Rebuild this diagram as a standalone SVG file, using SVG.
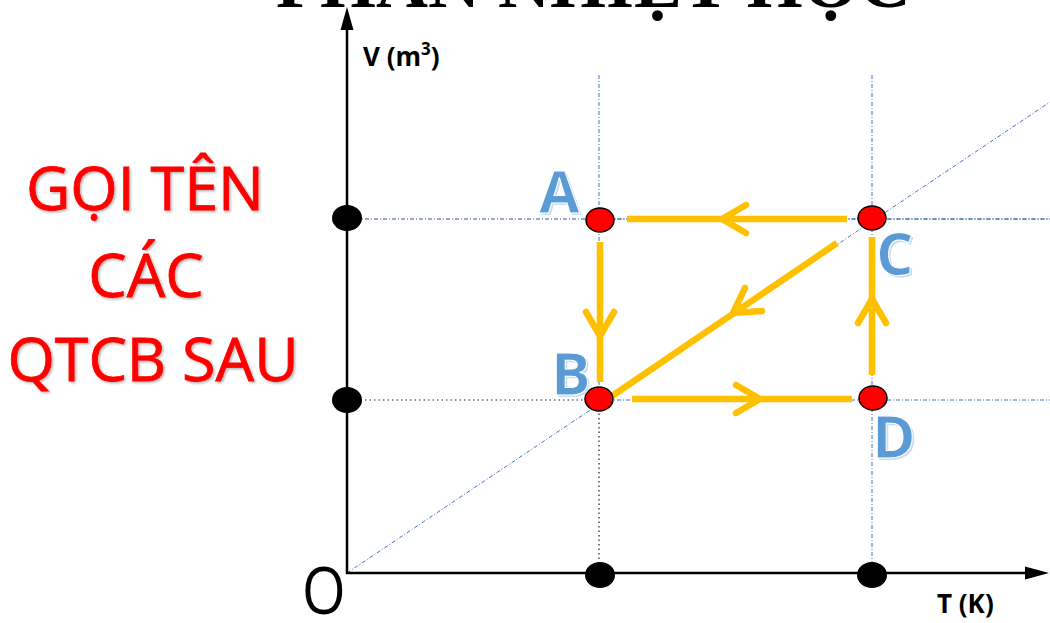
<svg xmlns="http://www.w3.org/2000/svg" width="1050" height="623" viewBox="0 0 1050 623">
<defs>
<style>
.title{font-family:"Liberation Serif",serif;font-weight:bold;font-size:72px;fill:#000}
.red{font-family:"Open Sans","Liberation Sans",sans-serif;font-size:61px;fill:#FF0000;stroke:#FF0000;stroke-width:0.8;text-anchor:middle}
.axl{font-family:"Open Sans","Liberation Sans",sans-serif;font-weight:bold;font-size:26px;fill:#000}
.lbl{font-family:"Open Sans","Liberation Sans",sans-serif;font-weight:bold;font-size:59px;fill:#5B9BD5;stroke:#FFFFFF;stroke-width:1}
.lblsh{font-family:"Open Sans","Liberation Sans",sans-serif;font-weight:bold;font-size:59px;fill:#C9DDF1}
.guide{stroke:#4472C4;stroke-width:1;stroke-dasharray:4 2 1 2;fill:none}
.guidek{stroke:#222;stroke-width:1.2;stroke-dasharray:1.5 3;fill:none}
.axis{stroke:#000;stroke-width:2.5;fill:none}
.ptk{fill:#000}
.ptr{fill:#FF0000;stroke:#000;stroke-width:1.5}
.seg{stroke:#FFC000;stroke-width:6.5;fill:none;stroke-linecap:butt}
.chev{stroke:#FFC000;stroke-width:6.5;fill:none;stroke-linecap:round;stroke-linejoin:round}
</style>
<filter id="sh" x="-10%" y="-10%" width="130%" height="130%">
<feDropShadow dx="1.5" dy="1.5" stdDeviation="1" flood-color="#000" flood-opacity="0.3"/>
</filter>
</defs>
<rect width="1050" height="623" fill="#fff"/>
<g id="title"><text class="title" x="276" y="7">PHẦN NHIỆT HỌC</text></g>
<g id="guides">
<line class="guide" x1="347" y1="573" x2="1050" y2="102"/>
<line class="guide" x1="599" y1="75" x2="599" y2="400"/>
<line class="guidek" x1="599" y1="400" x2="599" y2="573"/>
<line class="guide" x1="872" y1="75" x2="872" y2="573"/>
<line class="guide" x1="347" y1="219" x2="1050" y2="219" style="stroke:#2F5597"/>
<line class="guide" x1="600" y1="219" x2="1050" y2="219"/>
<line class="guidek" x1="347" y1="400" x2="599" y2="400"/>
<line class="guide" x1="599" y1="400" x2="1050" y2="400"/>
</g>
<g id="axes">
<line class="axis" x1="347" y1="574" x2="347" y2="28"/>
<polygon points="347,7 340.5,30 353.5,30" fill="#000"/>
<line class="axis" x1="346" y1="573" x2="1027" y2="573"/>
<polygon points="1049,573 1025,566.5 1025,579.5" fill="#000"/>
<text class="axl" x="363" y="66">V (m<tspan font-size="17" dy="-11">3</tspan><tspan dy="11">)</tspan></text>
<text class="axl" x="937" y="613">T (K)</text>
<text transform="translate(302,614) scale(0.85,1)" font-family="Open Sans, Liberation Sans, sans-serif" font-size="66" fill="#000">O</text>
</g>
<g id="question" filter="url(#sh)">
<text class="red" x="145" y="210">GỌI TÊN</text>
<text class="red" x="146" y="297">CÁC</text>
<text class="red" x="153" y="381">QTCB SAU</text>
</g>
<g id="connectors">
<line class="seg" x1="847" y1="219" x2="627" y2="219"/>
<polyline class="chev" points="746,205 722,219 746,233"/>
<line class="seg" x1="600" y1="242" x2="600" y2="382"/>
<polyline class="chev" points="586,312 600,336 614,312"/>
<line class="seg" x1="837" y1="243" x2="612" y2="396"/>
<polyline class="chev" points="745,288 733,313 762,311"/>
<line class="seg" x1="632" y1="399" x2="852" y2="399"/>
<polyline class="chev" points="736,385 760,399 736,413"/>
<line class="seg" x1="872" y1="375" x2="872" y2="237"/>
<polyline class="chev" points="858,323 872,299 886,323"/>
</g>
<g id="axis-points">
<ellipse class="ptk" cx="347" cy="218" rx="15" ry="13"/>
<ellipse class="ptk" cx="347" cy="400" rx="15" ry="13"/>
<ellipse class="ptk" cx="600" cy="575" rx="15" ry="13"/>
<ellipse class="ptk" cx="872" cy="575" rx="15" ry="13"/>
</g>
<g id="node-A">
<ellipse class="ptr" cx="600" cy="220" rx="14" ry="12"/>
<text class="lblsh" x="541" y="215">A</text>
<text class="lbl" x="539" y="213">A</text>
</g>
<g id="node-B">
<ellipse class="ptr" cx="599" cy="399" rx="14" ry="12"/>
<text class="lblsh" x="553" y="397">B</text>
<text class="lbl" x="551" y="395">B</text>
</g>
<g id="node-C">
<ellipse class="ptr" cx="872" cy="218" rx="14" ry="12"/>
<text class="lblsh" x="878" y="277">C</text>
<text class="lbl" x="876" y="275">C</text>
</g>
<g id="node-D">
<ellipse class="ptr" cx="873" cy="398" rx="14" ry="12"/>
<text class="lblsh" x="874" y="460">D</text>
<text class="lbl" x="872" y="458">D</text>
</g>
</svg>
